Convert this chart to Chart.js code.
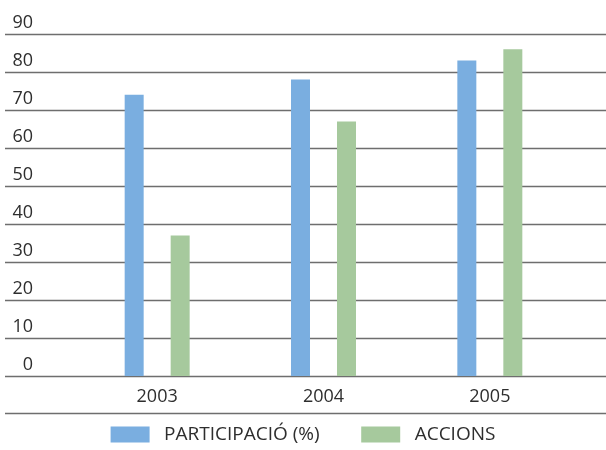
<!DOCTYPE html>
<html>
<head>
<meta charset="utf-8">
<script src="https://cdn.jsdelivr.net/npm/chart.js@4"></script>
<style>
  html, body { margin: 0; padding: 0; background: #fff; }
  #wrap { width: 606px; height: 450px; }
</style>
</head>
<body>
<div id="wrap"><canvas id="chart" width="606" height="450"></canvas></div>
<script>
// dades
const anys = ["2003", "2004", "2005"];
const participacio = [74, 78, 83];
const accions = [37, 67, 86];
const nomSeries = ["PARTICIPACIÓ (%)", "ACCIONS"];

const textColor = "#2e2e2e";
const lineColor = "#6e6e6e";

// linies horitzontals a tota l'amplada, i linia sota els anys
const liniesPlugin = {
  id: "linies",
  beforeDatasetsDraw(chart) {
    const ctx = chart.ctx;
    const y = chart.scales.y;
    const x = chart.scales.x;
    ctx.save();
    ctx.strokeStyle = lineColor;
    ctx.lineWidth = 1.3;
    y.ticks.forEach(t => {
      const py = Math.round(y.getPixelForValue(t.value)) + 0.5;
      ctx.beginPath();
      ctx.moveTo(5, py);
      ctx.lineTo(chart.width, py);
      ctx.stroke();
    });
    const pb = Math.round(x.bottom) + 0.5;
    ctx.beginPath();
    ctx.moveTo(5, pb);
    ctx.lineTo(chart.width, pb);
    ctx.stroke();
    ctx.restore();
  }
};

let chart = new Chart(document.getElementById("chart").getContext("2d"), {
  type: "bar",
  data: {
    labels: anys,
    datasets: [
      { label: nomSeries[0], data: participacio, backgroundColor: "#7aaee0" },
      { label: nomSeries[1], data: accions, backgroundColor: "#a6c99d" },
    ],
  },
  options: {
    responsive: false,
    animation: false,
    layout: { padding: { left: 5, right: 5, top: 34, bottom: 0 } },
    datasets: {
      bar: { categoryPercentage: 0.553, barPercentage: 0.413 },
    },
    scales: {
      x: {
        grid: { display: false, drawTicks: false },
        border: { display: false },
        ticks: {
          color: textColor,
          font: { family: "Open Sans", size: 18 },
          padding: 10,
        },
        afterFit(s) {
          s.height = 37;
          s.paddingLeft = 0;
          s.paddingRight = 0;
        },
      },
      y: {
        min: 0,
        max: 90,
        grid: { display: false, drawTicks: false },
        border: { display: false },
        ticks: {
          stepSize: 10,
          color: textColor,
          font: { family: "Open Sans", size: 18 },
          padding: 41,
          labelOffset: -11,
        },
        afterFit(s) {
          s.width = 69;
          s.paddingTop = 0;
          s.paddingBottom = 0;
        },
      },
      // eix buit a la dreta, només per deixar marge
      marge: {
        position: "right",
        grid: { display: false, drawTicks: false },
        border: { display: false },
        ticks: { display: false },
        afterFit(s) {
          s.width = 28;
          s.paddingTop = 0;
          s.paddingBottom = 0;
        },
      },
    },
    plugins: {
      tooltip: { enabled: false },
      legend: {
        position: "bottom",
        maxHeight: 37,
        labels: {
          color: textColor,
          font: { family: "Open Sans", size: 19 },
          boxWidth: 39,
          boxHeight: 16,
          padding: 12,
          generateLabels(c) {
            return Chart.defaults.plugins.legend.labels.generateLabels(c)
              .map((l, i) => ({
                ...l,
                text: " " + l.text + (i === 0 ? "      " : ""),
                lineWidth: 0,
              }));
          },
        },
      },
    },
  },
  plugins: [liniesPlugin],
});
</script>
</body>
</html>
